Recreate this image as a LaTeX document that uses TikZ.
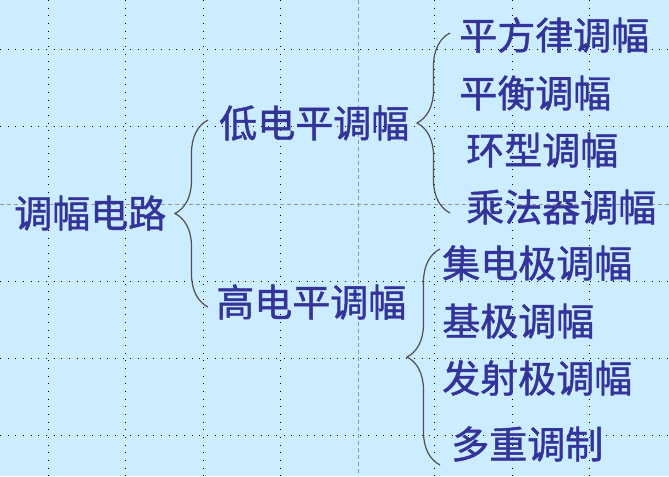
\documentclass[tikz,border=0pt]{standalone}
\usepackage{fontspec}
\newfontfamily\cjk{Noto Sans CJK SC}[FakeBold=1.2]
\definecolor{slidebg}{RGB}{204,236,255}
\definecolor{slideblue}{RGB}{51,51,153}
\definecolor{bracegray}{RGB}{80,80,80}
\definecolor{guidegray}{RGB}{150,150,150}
\usetikzlibrary{positioning, decorations.pathreplacing}

\begin{document}
\begin{tikzpicture}[x=0.75pt, y=-0.75pt,
    every node/.style={font=\cjk\fontsize{28.5}{30}\selectfont, text=slideblue, inner sep=0pt, anchor=west},
    gridline/.style={black, line width=0.75pt, dash pattern=on 0.75pt off 5pt},
    guideline/.style={guidegray, line width=0.75pt, dash pattern=on 3pt off 2.25pt},
    bracket/.style={bracegray, line width=0.9pt, decorate, decoration={brace, amplitude=24.75pt}}]
        \fill[slidebg] (0,0) rectangle (669,476);
        \useasboundingbox (0,0) rectangle (669,476);
        % dotted grid and guides
        \foreach \gx in {48,125,203,280,434,512,589} { \draw[gridline] (\gx,0) -- (\gx,476); }
        \foreach \gy in {49,126,281,358,435} { \draw[gridline] (0,\gy) -- (669,\gy); }
        \draw[guideline] (358,0) -- (358,476);
        \draw[guideline] (0,204) -- (669,204);
        % tree
        \node (root) at (14,213) {调幅电路};
        \node (low) at (219,123) {低电平调幅};
        \node (high) at (216,302) {高电平调幅};
        \node (sq) at (459,35) {平方律调幅};
        \node (bal) at (459,93) {平衡调幅};
        \node (ring) at (466,150) {环型调幅};
        \node (mult) at (466,207) {乘法器调幅};
        \node (coll) at (442,263) {集电极调幅};
        \node (base) at (442,321) {基极调幅};
        \node (emit) at (442,378) {发射极调幅};
        \node (multi) at (451,444) {多重调制};
        % braces
        \coordinate (b1t) at (208,120); \coordinate (b1b) at (208,307);
        \coordinate (b2t) at (450,33); \coordinate (b2b) at (450,213);
        \coordinate (b3t) at (440,249); \coordinate (b3b) at (440,465);
        \draw[bracket] (b1b) -- (b1t);
        \draw[bracket] (b2b) -- (b2t);
        \draw[bracket] (b3b) -- (b3t);
\end{tikzpicture}
\end{document}
